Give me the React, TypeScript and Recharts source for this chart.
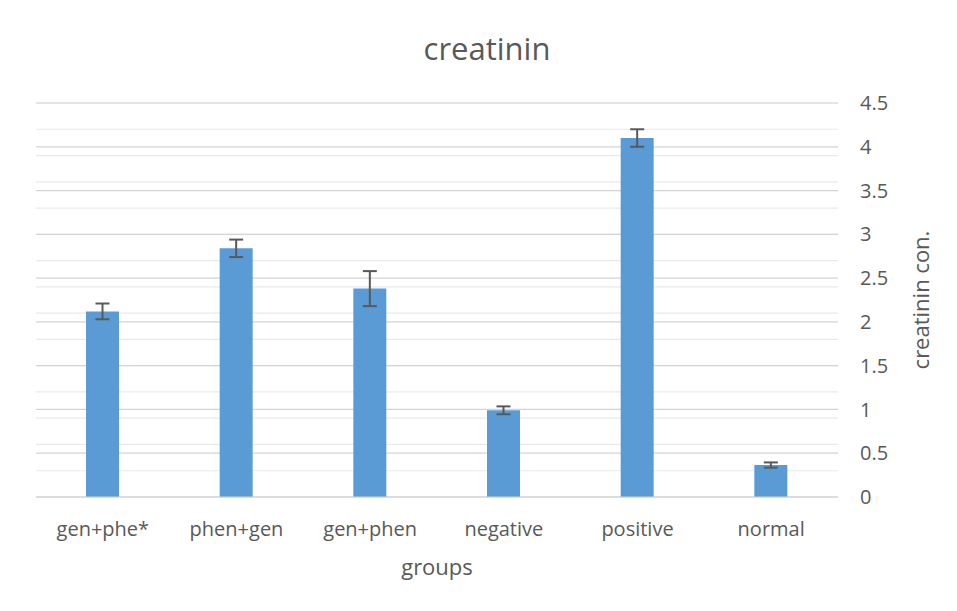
import React from 'react';
import { BarChart, Bar, XAxis, YAxis, CartesianGrid, ErrorBar } from 'recharts';

const categories = ['gen+phe*', 'phen+gen', 'gen+phen', 'negative', 'positive', 'normal'];
const values = [2.12, 2.84, 2.38, 0.99, 4.1, 0.365];
const errors = [0.09, 0.1, 0.2, 0.045, 0.1, 0.03];
const majorTicks = [0, 0.5, 1, 1.5, 2, 2.5, 3, 3.5, 4, 4.5];
const minorTicks = [
  0, 0.1, 0.2, 0.3, 0.4, 0.5, 0.6, 0.7, 0.8, 0.9,
  1, 1.1, 1.2, 1.3, 1.4, 1.5, 1.6, 1.7, 1.8, 1.9,
  2, 2.1, 2.2, 2.3, 2.4, 2.5, 2.6, 2.7, 2.8, 2.9,
  3, 3.1, 3.2, 3.3, 3.4, 3.5, 3.6, 3.7, 3.8, 3.9,
  4, 4.1, 4.2, 4.3, 4.4, 4.5,
];
const title = 'creatinin';
const xTitle = 'groups';
const yTitle = 'creatinin con.';

const data = categories.map((c, i) => ({ name: c, value: values[i], err: errors[i] }));

const FONT = '"Open Sans", sans-serif';
const TEXT = '#595959';

export default function App() {
  return (
    <div style={{ position: 'relative', margin: -8, width: 957, height: 611, background: '#fff', fontFamily: FONT }}>
      <BarChart
        width={957}
        height={611}
        data={data}
        margin={{ top: 103, right: 0, left: 36, bottom: 0 }}
      >
        <CartesianGrid
          vertical={false}
          stroke="#EAEAEA"
          strokeWidth={1.2}
          horizontalValues={minorTicks}
        />
        <CartesianGrid vertical={false} stroke="#D4D4D4" strokeWidth={1.2} />
        <XAxis
          dataKey="name"
          height={114}
          axisLine={{ stroke: '#D4D4D4', strokeWidth: 1.2 }}
          tickLine={false}
          tickSize={0}
          tickMargin={25}
          tick={{ fill: TEXT, fontSize: 20, fontFamily: FONT }}
          interval={0}
        />
        <YAxis
          orientation="right"
          width={119}
          domain={[0, 4.5]}
          ticks={majorTicks}
          type="number"
          axisLine={false}
          tickLine={false}
          tickSize={0}
          tickMargin={22}
          tick={{ fill: TEXT, fontSize: 20, fontFamily: FONT, textAnchor: 'start' }}
        />
        <Bar dataKey="value" fill="#5B9BD5" barSize={33} isAnimationActive={false}>
          <ErrorBar dataKey="err" width={7} stroke="#595959" strokeWidth={2} direction="y" />
        </Bar>
      </BarChart>
      <svg
        width={957}
        height={611}
        style={{ position: 'absolute', left: 0, top: 0, pointerEvents: 'none' }}
      >
        <path d="M5 611 V4 H957" fill="none" stroke="#D4D4D4" strokeWidth={2} />
        <text x={487} y={60} textAnchor="middle" fontSize={31} fill={TEXT} fontFamily={FONT}>
          {title}
        </text>
        <text x={437} y={575} textAnchor="middle" fontSize={22} fill={TEXT} fontFamily={FONT}>
          {xTitle}
        </text>
        <text
          x={929}
          y={300}
          textAnchor="middle"
          fontSize={22}
          fill={TEXT}
          fontFamily={FONT}
          transform="rotate(-90 929 300)"
        >
          {yTitle}
        </text>
      </svg>
    </div>
  );
}
